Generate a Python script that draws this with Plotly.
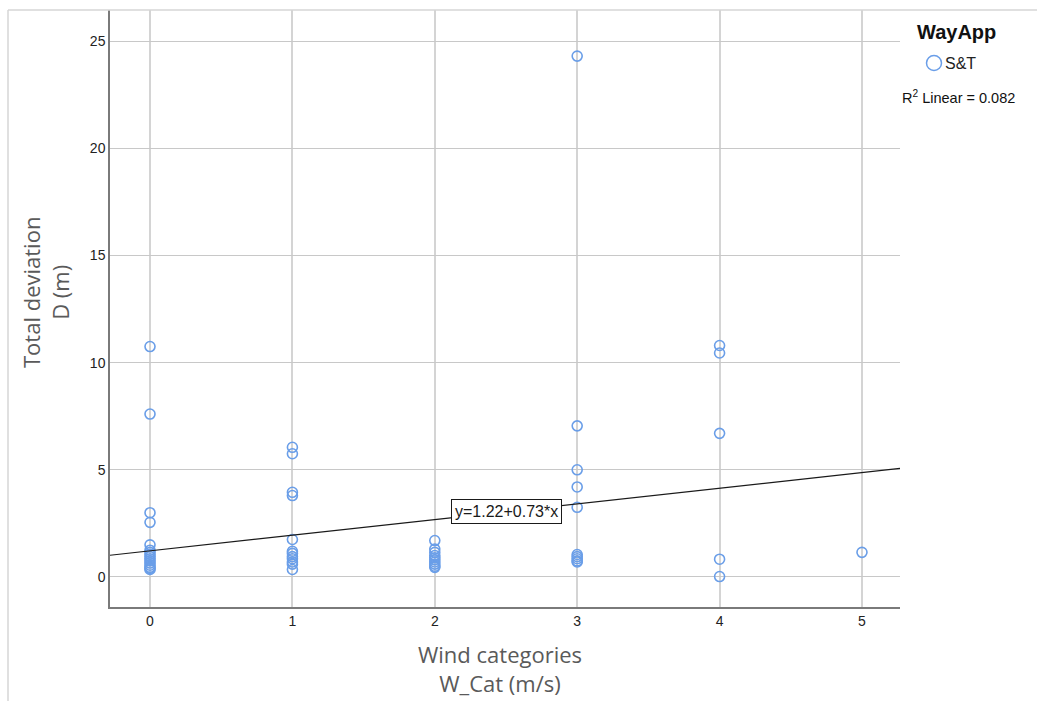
import plotly.graph_objects as go

# Total deviation D (m) observed in each wind category (W_Cat)
cat0 = [10.75, 7.6, 3.0, 2.55, 1.5, 1.25, 1.15, 1.05, 0.95, 0.85, 0.75, 0.65, 0.55, 0.45, 0.4, 0.35]
cat1 = [6.05, 5.75, 3.95, 3.8, 1.75, 1.2, 1.1, 0.95, 0.85, 0.7, 0.6, 0.35]
cat2 = [1.7, 1.3, 1.15, 1.0, 0.9, 0.8, 0.7, 0.6, 0.5, 0.45]
cat3 = [24.3, 7.05, 5.0, 4.2, 3.25, 1.05, 0.95, 0.85, 0.75, 0.7]
cat4 = [10.8, 10.45, 6.7, 0.83, 0.02]
cat5 = [1.15]

groups = [cat0, cat1, cat2, cat3, cat4, cat5]
wind_cat = [k for k, g in enumerate(groups) for _ in g]
deviation = [v for g in groups for v in g]

# Linear fit reported for the S&T group
intercept = 1.22
slope = 0.73
r2 = 0.082

x_range = [-0.281, 5.267]
y_range = [-1.40, 26.45]

y_ticks = [0, 5, 10, 15, 20, 25]
x_ticks = [0, 1, 2, 3, 4, 5]

point_color = "#6a9ee8"
label_font = "Liberation Sans, Arial, sans-serif"
title_font = "Open Sans, Noto Sans, sans-serif"

fig = go.Figure()

fig.add_trace(go.Scatter(
    x=wind_cat, y=deviation, mode="markers",
    marker=dict(symbol="circle-open", size=10, color=point_color,
                line=dict(width=1.6, color=point_color)),
    showlegend=False, hoverinfo="x+y",
))

fit_x = x_range
fit_y = [intercept + slope * v for v in fit_x]
fig.add_trace(go.Scatter(
    x=fit_x, y=fit_y, mode="lines",
    line=dict(color="#1a1a1a", width=1.2),
    showlegend=False, hoverinfo="skip",
))

# Equation label centred on the fitted line
lx = 2.5
fig.add_annotation(
    x=lx, y=intercept + slope * lx, xref="x", yref="y",
    xanchor="center", yanchor="middle",
    text=f"y={intercept:.2f}+{slope:.2f}*x", showarrow=False,
    font=dict(family=label_font, size=16, color="#1a1a1a"),
    bgcolor="white", bordercolor="#1a1a1a", borderwidth=1, borderpad=3,
)

W, H = 1037, 701
L, R, T, B = 110, 137, 10, 94
pw, ph = W - L - R, H - T - B

def px(xp):
    return (xp - L) / pw

def py(yp):
    return (H - B - yp) / ph

def note(xp, yp, text, font, **kw):
    fig.add_annotation(x=px(xp), y=py(yp), xref="paper", yref="paper",
                       xanchor=kw.pop("xanchor", "center"), yanchor="middle",
                       text=text, showarrow=False, font=font, **kw)

# Legend block
note(956, 32, "<b>WayApp</b>", dict(family=label_font, size=20, color="#111"))
fig.add_shape(type="circle", xref="paper", yref="paper",
              xsizemode="pixel", ysizemode="pixel",
              xanchor=px(934), yanchor=py(63),
              x0=-7.5, x1=7.5, y0=-7.5, y1=7.5,
              line=dict(color=point_color, width=1.5))
note(943, 64, "S&T", dict(family=label_font, size=16, color="#222"), xanchor="left")
note(958, 97, f"R<sup>2</sup> Linear = {r2:.3f}",
     dict(family=label_font, size=14.5, color="#111"))

# Axis titles
note(45, 293, "Total deviation<br>D (m)",
     dict(family=title_font, size=22, color="#5a5a5a"), textangle=-90)
note(500, 668, "Wind categories<br>W_Cat (m/s)",
     dict(family=title_font, size=22, color="#5a5a5a"))

# Outer frame (top and left edges)
frame = dict(color="#d6d6d6", width=1.5)
fig.add_shape(type="line", xref="paper", yref="paper",
              x0=px(8), x1=px(W + 5), y0=py(10), y1=py(10), line=frame)
fig.add_shape(type="line", xref="paper", yref="paper",
              x0=px(8), x1=px(8), y0=py(10), y1=py(H + 5), line=frame)

fig.update_xaxes(
    range=x_range, tickvals=x_ticks, ticktext=[str(v) for v in x_ticks],
    showgrid=True, gridcolor="#d4d4d4", gridwidth=2, zeroline=False,
    showline=True, linecolor="#7a7a7a", linewidth=1.5,
    ticks="", tickfont=dict(family=label_font, size=14, color="#222"),
)
fig.update_yaxes(
    range=y_range, tickvals=y_ticks, ticktext=[str(v) for v in y_ticks],
    showgrid=True, gridcolor="#c8c8c8", gridwidth=1, zeroline=False,
    showline=True, linecolor="#7a7a7a", linewidth=1.5,
    ticks="", tickfont=dict(family=label_font, size=14, color="#222"),
)

fig.update_layout(
    width=W, height=H,
    margin=dict(l=L, r=R, t=T, b=B),
    paper_bgcolor="white", plot_bgcolor="white",
    showlegend=False,
)

fig.write_html("out.html")
